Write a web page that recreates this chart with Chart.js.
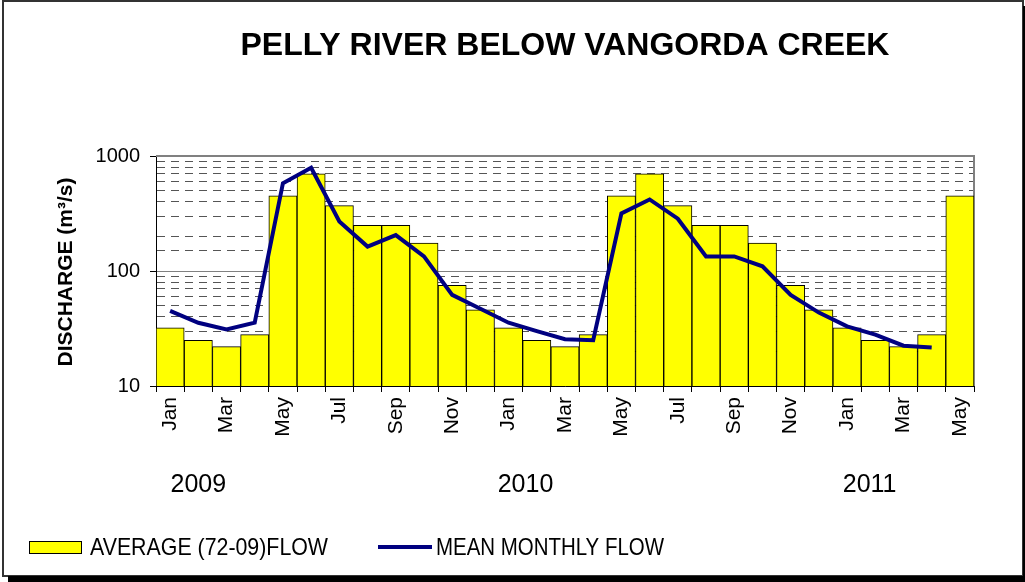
<!DOCTYPE html>
<html>
<head>
<meta charset="utf-8">
<script src="https://cdn.jsdelivr.net/npm/chart.js@4"></script>
<style>
  html, body { margin: 0; padding: 0; background: #fff; }
  #wrap { width: 1025px; height: 582px; position: relative; }
</style>
</head>
<body>
<div id="wrap"><canvas id="c" width="1025" height="582"></canvas></div>
<script>
// ---- data ----
const chartTitle = 'PELLY RIVER BELOW VANGORDA CREEK';
const yAxisTitle = 'DISCHARGE (m³/s)';
const months = ['Jan','Feb','Mar','Apr','May','Jun','Jul','Aug','Sep','Oct','Nov','Dec',
                'Jan','Feb','Mar','Apr','May','Jun','Jul','Aug','Sep','Oct','Nov','Dec',
                'Jan','Feb','Mar','Apr','May'];
const years = ['2009', '2010', '2011'];
const averageFlow = [32,25,22,28,450,700,370,250,250,175,75,46,
                     32,25,22,28,450,700,370,250,250,175,75,46,
                     32,25,22,28,450];
const meanMonthlyFlow = [45,35.5,31,35.5,580,790,270,163,205,134,62,47,
                         35.5,30,25.5,25,317,419,285,134,134,110,62,43.5,
                         33,28,22.4,21.6,null];
const yTickLabels = [10, 100, 1000];
const seriesNames = ['AVERAGE (72-09)FLOW', 'MEAN MONTHLY FLOW'];

// ---- layout / style ----
const FONT = "'Liberation Sans', Arial, Helvetica, sans-serif";
Chart.defaults.font.family = FONT;
Chart.defaults.color = '#000';
const yearAnchors = [1.0, 12.6, 24.8];

const decor = {
  id: 'decor',
  beforeDraw(chart) {
    const ctx = chart.ctx;
    ctx.save();
    ctx.fillStyle = '#fff';
    ctx.fillRect(0, 0, chart.width, chart.height);
    // outer frame
    ctx.strokeStyle = '#333';
    ctx.lineWidth = 2;
    ctx.strokeRect(3, 1, 1020, 575);
    // shadow
    ctx.fillStyle = '#000';
    ctx.fillRect(8, 576, 1017, 6);
    ctx.fillRect(1023, 6, 2, 576);
    ctx.restore();
  },
  beforeDatasetsDraw(chart) {
    const ctx = chart.ctx, a = chart.chartArea;
    ctx.save();
    ctx.strokeStyle = '#808080';
    ctx.lineWidth = 2;
    ctx.beginPath();
    ctx.moveTo(a.left, a.top);
    ctx.lineTo(a.right, a.top);
    ctx.lineTo(a.right, a.bottom);
    ctx.stroke();
    ctx.restore();
  },
  afterDraw(chart) {
    const ctx = chart.ctx, a = chart.chartArea;
    const xs = chart.scales.x;
    ctx.save();
    ctx.fillStyle = '#000';
    // title
    ctx.font = 'bold 32px ' + FONT;
    ctx.textAlign = 'center';
    ctx.textBaseline = 'alphabetic';
    ctx.fillText(chartTitle, (a.left + a.right) / 2, 55);
    // y axis title
    ctx.save();
    ctx.translate(66, (a.top + a.bottom) / 2 + 1);
    ctx.rotate(-Math.PI / 2);
    ctx.font = 'bold 21px ' + FONT;
    ctx.textBaseline = 'middle';
    ctx.fillText(yAxisTitle, 0, 0);
    ctx.restore();
    // year labels
    ctx.font = '25px ' + FONT;
    ctx.textAlign = 'center';
    years.forEach((y, i) => {
      ctx.fillText(y, xs.getPixelForValue(yearAnchors[i]), 492);
    });
    // legend
    ctx.textAlign = 'left';
    ctx.font = '24px ' + FONT;
    ctx.fillStyle = '#FFFF00';
    ctx.fillRect(29, 541, 52, 12);
    ctx.strokeStyle = '#000';
    ctx.lineWidth = 1;
    ctx.strokeRect(29.5, 541.5, 52, 12);
    ctx.fillStyle = '#000';
    ctx.fillText(seriesNames[0], 90, 555, 238);
    ctx.strokeStyle = '#000080';
    ctx.lineWidth = 4;
    ctx.beginPath();
    ctx.moveTo(378, 547);
    ctx.lineTo(432, 547);
    ctx.stroke();
    ctx.fillText(seriesNames[1], 436, 555, 228);
    ctx.restore();
  }
};

new Chart(document.getElementById('c'), {
  type: 'bar',
  data: {
    labels: months,
    datasets: [
      {
        type: 'line',
        label: seriesNames[1],
        data: meanMonthlyFlow,
        borderColor: '#000080',
        backgroundColor: '#000080',
        borderWidth: 4,
        pointRadius: 0,
        tension: 0,
        fill: false,
        order: 0,
        spanGaps: false
      },
      {
        type: 'bar',
        label: seriesNames[0],
        data: averageFlow,
        backgroundColor: '#FFFF00',
        borderColor: '#000',
        borderWidth: 1,
        barPercentage: 1.0,
        categoryPercentage: 1.0,
        order: 1
      }
    ]
  },
  options: {
    responsive: false,
    animation: false,
    events: [],
    layout: { padding: { left: 0, right: 51, top: 156, bottom: 96 } },
    plugins: {
      legend: { display: false },
      title: { display: false },
      tooltip: { enabled: false }
    },
    scales: {
      x: {
        type: 'category',
        offset: true,
        afterFit(s) { s.height = 100; },
        grid: {
          offset: true,
          drawOnChartArea: false,
          drawTicks: true,
          tickLength: 6,
          tickColor: '#000',
          color: '#000'
        },
        border: { display: true, color: '#000', width: 1 },
        ticks: {
          autoSkip: false,
          minRotation: 90,
          maxRotation: 90,
          padding: 5,
          font: { size: 21 },
          color: '#000',
          callback(v, i) { return i % 2 === 0 ? months[i] : ''; }
        }
      },
      y: {
        type: 'logarithmic',
        min: 10,
        max: 1000,
        afterFit(s) { s.width = 156; },
        grid: {
          drawOnChartArea: true,
          drawTicks: true,
          tickLength: 6,
          lineWidth: 1,
          color(c) { return yTickLabels.includes(c.tick && c.tick.value) ? '#808080' : '#555'; },
          tickColor(c) { return yTickLabels.includes(c.tick && c.tick.value) ? '#000' : 'rgba(0,0,0,0)'; }
        },
        border: {
          display: true,
          color: '#000',
          width: 1,
          dash(c) { return yTickLabels.includes(c.tick && c.tick.value) ? [] : [8, 6]; }
        },
        ticks: {
          autoSkip: false,
          padding: 10,
          font: { size: 20 },
          color: '#000',
          callback(v) { return yTickLabels.includes(v) ? String(v) : ''; }
        }
      }
    }
  },
  plugins: [decor]
});
</script>
</body>
</html>
